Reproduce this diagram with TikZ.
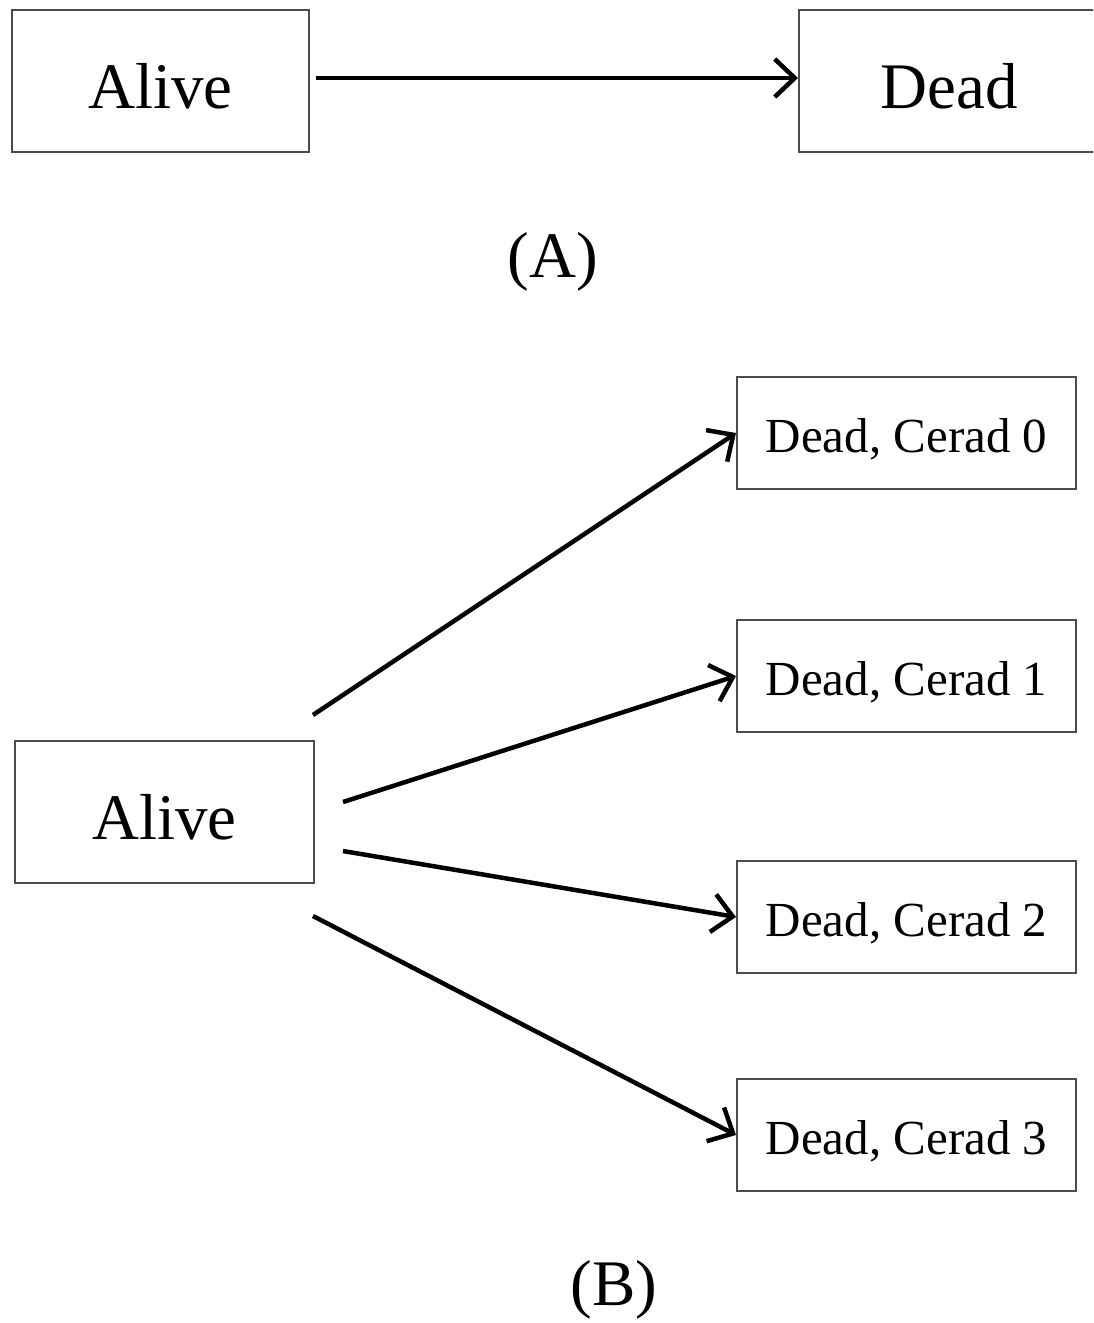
\documentclass[tikz,border=0pt]{standalone}
\usepackage{fontspec}
\setmainfont{Liberation Serif}
\usetikzlibrary{arrows.meta}
\begin{document}
\begin{tikzpicture}[x=1pt,y=-1pt,
  box/.style={draw=black!70, line width=2pt, inner sep=0pt, anchor=north west},
  big/.style={font=\fontsize{65}{70}\selectfont},
  bigbox/.style={big, text height=55pt, text depth=0pt},
  small/.style={font=\fontsize{49}{54}\selectfont, text height=38pt, text depth=0pt},
  arr/.style={-{Straight Barb[length=20pt,width=38pt,line width=4.5pt]}, line width=4.5pt, black}]
\useasboundingbox (0,0) rectangle (1093,1323);
\clip (0,0) rectangle (1093,1323);
% (A)
\node[box, bigbox, minimum width=297pt, minimum height=142pt] (aliveA) at (11,9) {Alive};
\node[box, bigbox, minimum width=300pt, minimum height=142pt] (deadA) at (798,9) {Dead};
\coordinate (aS) at (316,78);
\coordinate (aE) at (798,78);
\draw[arr] (aS) -- (aE);
\node[big] (labA) at (553,262) {(A)};
% (B)
\node[box, bigbox, minimum width=299pt, minimum height=142pt] (aliveB) at (14,740) {Alive};
\node[box, small, minimum width=339pt, minimum height=112pt] (c0) at (736,376) {Dead, Cerad 0};
\node[box, small, minimum width=339pt, minimum height=112pt] (c1) at (736,619) {Dead, Cerad 1};
\node[box, small, minimum width=339pt, minimum height=112pt] (c2) at (736,860) {Dead, Cerad 2};
\node[box, small, minimum width=339pt, minimum height=112pt] (c3) at (736,1078) {Dead, Cerad 3};
\coordinate (s0) at (313,715);
\coordinate (s1) at (343,802);
\coordinate (s2) at (343,851);
\coordinate (s3) at (313,916);
\draw[arr] (s0) -- (c0.west);
\draw[arr] (s1) -- (c1.west);
\draw[arr] (s2) -- (c2.west);
\draw[arr] (s3) -- (c3.west);
\node[big] (labB) at (614,1290) {(B)};
\end{tikzpicture}
\end{document}
